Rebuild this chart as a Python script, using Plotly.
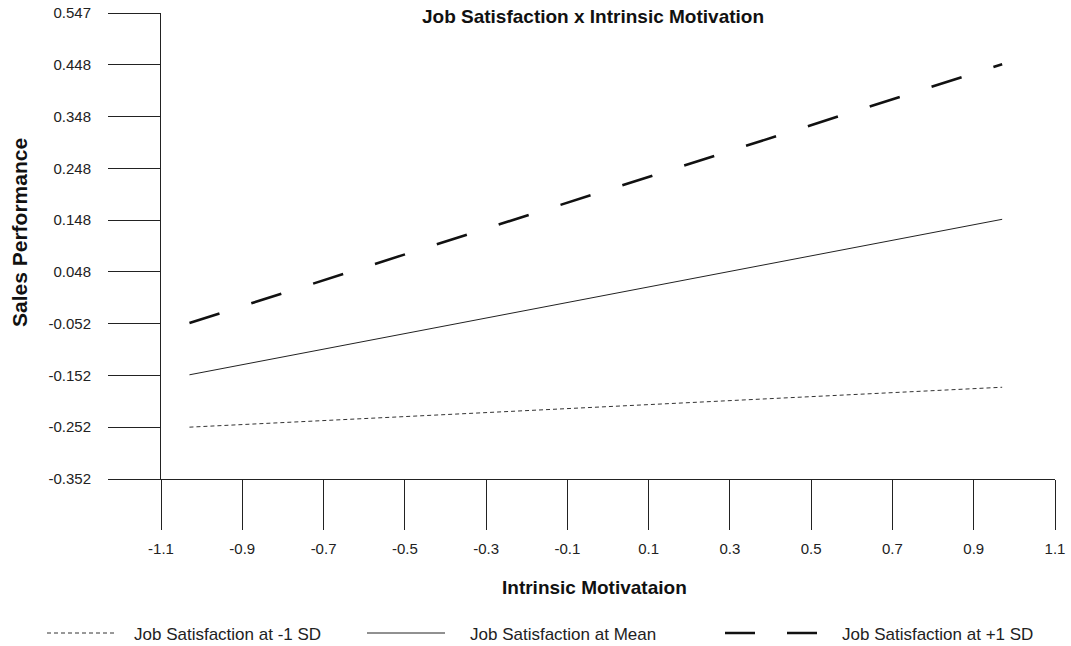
import plotly.graph_objects as go

# Simple-slopes data: sales performance at low / high intrinsic motivation
motivation = [-1.03, 0.97]
perf_low_js = [-0.252, -0.175]
perf_mean_js = [-0.151, 0.149]
perf_high_js = [-0.051, 0.448]

series_names = [
    "Job Satisfaction at -1 SD",
    "Job Satisfaction at Mean",
    "Job Satisfaction at +1 SD",
]

y_tick_labels = ["-0.352", "-0.252", "-0.152", "-0.052", "0.048",
                 "0.148", "0.248", "0.348", "0.448", "0.547"]
x_tick_labels = ["-1.1", "-0.9", "-0.7", "-0.5", "-0.3", "-0.1",
                 "0.1", "0.3", "0.5", "0.7", "0.9", "1.1"]

y_min, y_max = -0.352, 0.547
y_step = (y_max - y_min) / (len(y_tick_labels) - 1)
y_tick_vals = [y_min + i * y_step for i in range(len(y_tick_labels))]
x_tick_vals = [float(v) for v in x_tick_labels]

FONT = "Liberation Sans, Arial, sans-serif"
TXT = "#222222"
W, H = 1071, 646
ML, MR, MT, MB = 161, 16, 13, 167
PW, PH = W - ML - MR, H - MT - MB

styles = [
    dict(color="#333333", width=1, dash="4px,3px"),
    dict(color="#222222", width=1),
    dict(color="#111111", width=2.6, dash="31.5px,33.4px"),
]
key_styles = [
    styles[0],
    styles[1],
    dict(color="#111111", width=2.6, dash="30px,32px"),
]


def px_x(px):
    return (px - ML) / PW


def px_y(py):
    return (H - MB - py) / PH


fig = go.Figure()
for name, ys, st in zip(series_names, [perf_low_js, perf_mean_js, perf_high_js], styles):
    fig.add_trace(go.Scatter(x=motivation, y=ys, mode="lines", name=name,
                             line=st, showlegend=False))

# Legend row beneath the chart: key sample + label for each series
legend_keys = [(47, 115, 132), (367, 445, 468), (725, 818, 840)]
legend_y = 633
for (x0, x1, tx), name, st in zip(legend_keys, series_names, key_styles):
    fig.add_shape(type="line", xref="paper", yref="paper",
                  x0=px_x(x0), x1=px_x(x1), y0=px_y(legend_y), y1=px_y(legend_y),
                  line=st)
    fig.add_annotation(text=name, xref="paper", yref="paper",
                       x=px_x(tx), y=px_y(legend_y + 1), xanchor="left",
                       yanchor="middle", showarrow=False,
                       font=dict(size=17, color=TXT))

# Axis titles
fig.add_annotation(text="<b>Intrinsic Motivataion</b>", xref="paper", yref="paper",
                   x=px_x(594), y=px_y(587), xanchor="center", yanchor="middle",
                   showarrow=False, font=dict(size=19, color="#111111"))
fig.add_annotation(text="<b>Sales Performance</b>", xref="paper", yref="paper",
                   x=px_x(19), y=px_y(233), xanchor="center", yanchor="middle",
                   textangle=-90, showarrow=False,
                   font=dict(size=21, color="#111111"))

fig.update_layout(
    width=W, height=H,
    margin=dict(l=ML, r=MR, t=MT, b=MB),
    plot_bgcolor="white", paper_bgcolor="white",
    font=dict(family=FONT, size=15, color=TXT),
    title=dict(
        text="<b>Job Satisfaction x Intrinsic Motivation</b>",
        x=593 / W, xanchor="center", y=1 - 16 / H, yanchor="middle",
        font=dict(size=19, color="#111111"),
    ),
    showlegend=False,
)

fig.update_xaxes(
    range=[-1.1, 1.1], tickvals=x_tick_vals, ticktext=x_tick_labels,
    showgrid=False, zeroline=False, showline=True, linecolor="#222222",
    linewidth=1, ticks="outside", ticklen=50, tickcolor="#222222",
    tickwidth=1, ticklabelstandoff=6, automargin=False,
)
fig.update_yaxes(
    range=[y_min, y_max], tickvals=y_tick_vals, ticktext=y_tick_labels,
    showgrid=False, zeroline=False, showline=True, linecolor="#222222",
    linewidth=1, ticks="outside", ticklen=52, tickcolor="#222222",
    tickwidth=1, ticklabelstandoff=14, automargin=False,
)

fig.write_html("out.html")
